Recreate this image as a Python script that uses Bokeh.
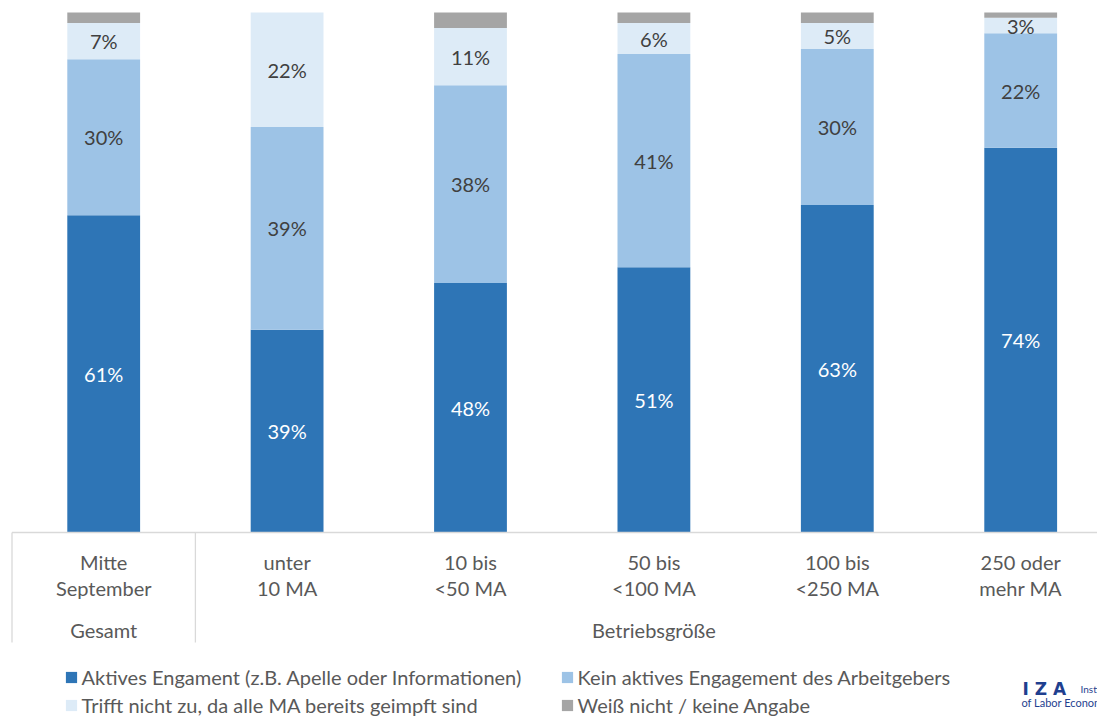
from bokeh.plotting import figure
from bokeh.models import Range1d, Legend, LegendItem, ColumnDataSource, Label
from bokeh.core.properties import value
from bokeh.embed import file_html
from bokeh.resources import INLINE

# ---- data ----
categories = ["Mitte\nSeptember", "unter\n10 MA", "10 bis\n<50 MA", "50 bis\n<100 MA",
              "100 bis\n<250 MA", "250 oder\nmehr MA"]
groups = ["Gesamt", "Betriebsgröße"]
group_sizes = [1, 5]
aktiv = [61, 39, 48, 51, 63, 74]
kein = [30, 39, 38, 41, 30, 22]
trifft_nicht = [7, 22, 11, 6, 5, 3]
weiss_nicht = [2, 0, 3, 2, 2, 1]
series_names = ["Aktives Engament (z.B. Apelle oder Informationen)",
                "Kein aktives Engagement des Arbeitgebers",
                "Trifft nicht zu, da alle MA bereits geimpft sind",
                "Weiß nicht / keine Angabe"]

# ---- style ----
FONT = "Lato"
FS = "20px"
colors = ["#2e75b6", "#9dc3e6", "#ddebf7", "#a5a5a5"]
label_colors = ["#ffffff", "#404040", "#404040", None]
TXT = "#595959"
GRID = "#d9d9d9"
LOGO = "#1f3f8f"

W, H = 1097, 717
LEFT = 10
CAT_PX = 183.4          # pixels per category
PX_UNIT = 5.2           # pixels per percent
BASE_PX = 532           # pixel row of the baseline
TOP_PX = 12             # pixel row of 100 %

n = len(categories)
xs = [i + 0.5 for i in range(n)]
stack_keys = ["aktiv", "kein", "trifft", "weiss"]
series = [aktiv, kein, trifft_nicht, weiss_nicht]
src = ColumnDataSource(dict(x=xs, aktiv=aktiv, kein=kein, trifft=trifft_nicht, weiss=weiss_nicht))

x0 = -1.5 / CAT_PX
p = figure(width=W, height=H,
           x_range=Range1d(x0, x0 + (W - LEFT) / CAT_PX),
           y_range=Range1d(-(H - BASE_PX) / PX_UNIT, 100 + TOP_PX / PX_UNIT),
           output_backend="svg", toolbar_location=None,
           x_axis_location=None, y_axis_location=None,
           min_border_left=LEFT, min_border_right=0, min_border_top=0, min_border_bottom=0)
p.grid.visible = False
p.outline_line_color = None
p.background_fill_color = "white"

rends = p.vbar_stack(stack_keys, x="x", width=0.397, source=src,
                     fill_color=colors, line_color=None)

# segment value labels
bottoms = [0] * n
for s_i, vals in enumerate(series):
    lx, ly, lt = [], [], []
    for i, v in enumerate(vals):
        if v > 0 and label_colors[s_i] is not None:
            lx.append(xs[i]); ly.append(bottoms[i] + v / 2); lt.append(f"{v}%")
    if lx:
        p.text(x=lx, y=ly, text=lt, text_align="center", text_baseline="middle",
               text_font=value(FONT), text_font_size=FS, text_color=label_colors[s_i])
    bottoms = [b + v for b, v in zip(bottoms, vals)]

# category axis line and separators
p.segment(x0=[0], y0=[0], x1=[n], y1=[0], line_color=GRID, line_width=1.3)
bounds = [0]
for g in group_sizes:
    bounds.append(bounds[-1] + g)
sep = bounds[:-1]
p.segment(x0=sep, y0=[0] * len(sep), x1=sep, y1=[-110 / PX_UNIT] * len(sep),
          line_color=GRID, line_width=1.3)

# category labels
line1 = [c.split("\n")[0] for c in categories]
line2 = [c.split("\n")[1] for c in categories]
p.text(x=xs, y=[0] * n, text=line1, y_offset=29, text_align="center", text_baseline="middle",
       text_font=value(FONT), text_font_size=FS, text_color=TXT)
p.text(x=xs, y=[0] * n, text=line2, y_offset=55, text_align="center", text_baseline="middle",
       text_font=value(FONT), text_font_size=FS, text_color=TXT)
gx = [(bounds[i] + bounds[i + 1]) / 2 for i in range(len(groups))]
p.text(x=gx, y=[0] * len(groups), text=groups, y_offset=97, text_align="center",
       text_baseline="middle", text_font=value(FONT), text_font_size=FS, text_color=TXT)

# legends
def make_legend(items, x):
    return Legend(items=items, location=(x, 0), orientation="vertical",
                  glyph_width=14, glyph_height=14, label_height=24, spacing=4,
                  label_standoff=4, padding=0, margin=0,
                  border_line_color=None, background_fill_alpha=0,
                  label_text_font=FONT, label_text_font_size=FS, label_text_color=TXT)

leg1 = make_legend([LegendItem(label=series_names[0], renderers=[rends[0]]),
                    LegendItem(label=series_names[2], renderers=[rends[2]])], 53.6)
leg2 = make_legend([LegendItem(label=series_names[1], renderers=[rends[1]]),
                    LegendItem(label=series_names[3], renderers=[rends[3]])], 549.6)
p.add_layout(leg1)
p.add_layout(leg2)

# IZA logo text
p.add_layout(Label(x=1012, y=29, x_units="screen", y_units="screen", text="I  Z  A",
                   text_font="DejaVu Sans", text_font_style="bold", text_font_size="17px",
                   text_color=LOGO, text_baseline="middle"))
p.add_layout(Label(x=1070, y=29, x_units="screen", y_units="screen", text="Institute",
                   text_font=FONT, text_font_size="10px", text_color=LOGO,
                   text_baseline="middle"))
p.add_layout(Label(x=1011, y=15, x_units="screen", y_units="screen", text="of Labor Economics",
                   text_font=FONT, text_font_size="11px", text_color=LOGO,
                   text_baseline="middle"))

open("out.html", "w").write(file_html(p, INLINE))
